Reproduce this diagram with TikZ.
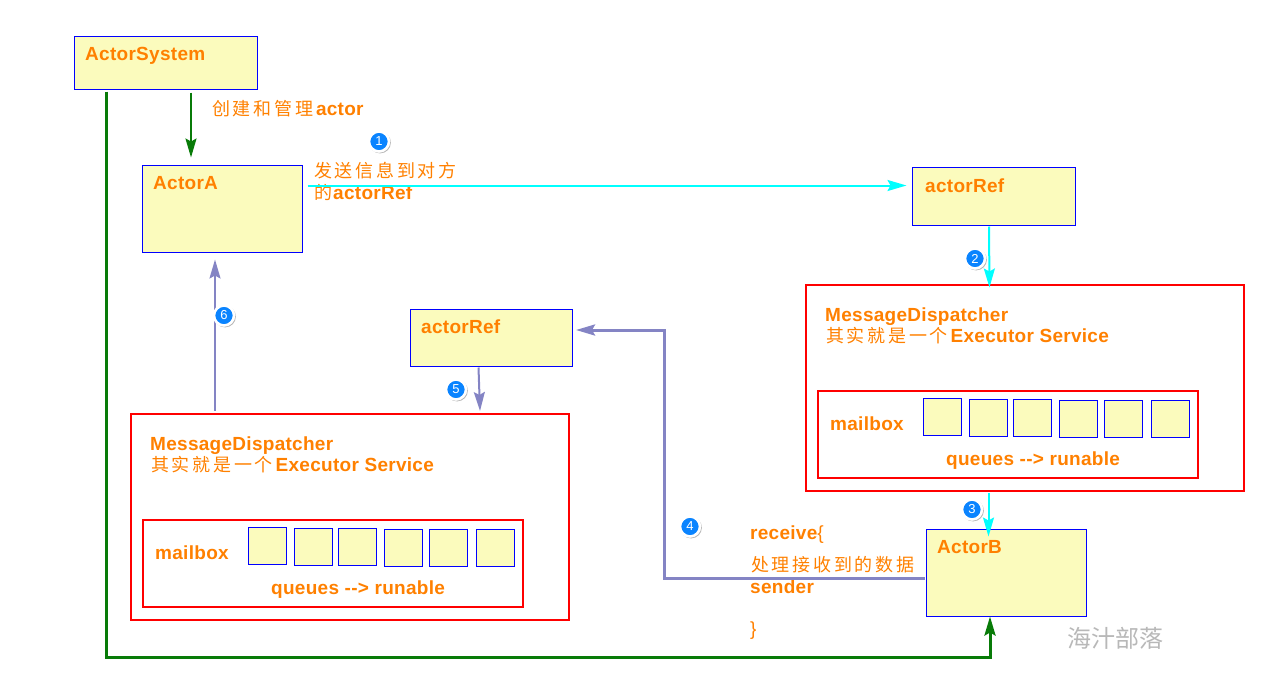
\documentclass[tikz,border=0pt]{standalone}
\usepackage{fontspec}
\setmainfont[LetterSpace=1.5]{Liberation Sans}
\newfontfamily\cjk[LetterSpace=15]{Noto Sans CJK SC}
\newfontfamily\wmfont{Noto Sans CJK SC}
\usetikzlibrary{arrows.meta,shadows}
\definecolor{boxfill}{HTML}{FBFBBD}
\definecolor{txtorange}{HTML}{FF8000}
\definecolor{msgpurple}{HTML}{8484C4}
\definecolor{ctlgreen}{HTML}{087B08}
\definecolor{badgeblue}{HTML}{0A84FF}
\definecolor{msgcyan}{HTML}{00FFFF}
\definecolor{boxblue}{HTML}{0000FF}
\definecolor{boxred}{HTML}{FF0000}
\newcommand{\zh}[1]{{\cjk\fontsize{18}{20}\selectfont\mdseries #1}\kern3pt}
\begin{document}
\begin{tikzpicture}[x=1pt,y=-1pt]
    \tikzset{>={Stealth[length=19pt,width=11pt,inset=3pt]}}
    \tikzset{actorbox/.style={draw=boxblue,fill=boxfill,line width=1pt,anchor=north west,inner sep=0,outer sep=0}}
    \tikzset{dispatchbox/.style={draw=boxred,line width=2pt,anchor=north west,inner sep=0,outer sep=0}}
    \tikzset{lbl/.style={anchor=base west,inner sep=0,text=txtorange,font=\fontsize{19}{20}\selectfont\bfseries}}
    \tikzset{badge/.style={circle,draw=white,line width=2.6pt,fill=badgeblue,text=white,minimum size=20pt,inner sep=0,
        font=\fontsize{13}{13}\selectfont,drop shadow={shadow xshift=1pt,shadow yshift=-1pt,shadow scale=1.08,opacity=0.6}}}
    \useasboundingbox (-0.5,-0.5) rectangle (1261.5,685.5);

    % actors and refs
    \node [actorbox,minimum width=183pt,minimum height=53pt] (ActorSystem) at (74,36) {};
    \node [actorbox,minimum width=160pt,minimum height=87pt] (ActorA) at (142,165) {};
    \node [actorbox,minimum width=163pt,minimum height=58pt] (RefB) at (912,167) {};
    \node [actorbox,minimum width=162pt,minimum height=57pt] (RefA) at (410,309) {};
    \node [actorbox,minimum width=160pt,minimum height=87pt] (ActorB) at (926,529) {};

    \node [lbl] (tSystem) at (84.5,60) {ActorSystem};
    \node [lbl] (tA) at (152.5,189) {ActorA};
    \node [lbl] (tRefB) at (924.5,192) {actorRef};
    \node [lbl] (tRefA) at (420.5,333) {actorRef};
    \node [lbl] (tB) at (936.5,553) {ActorB};

    % the two dispatchers, same layout
    \foreach \n/\dx/\dy in {R/0/0,L/-675/129}{
	\begin{scope}[shift={(\dx,\dy)}]
	    \node [dispatchbox,minimum width=438pt,minimum height=206pt] (disp\n) at (805.5,284.5) {};
	    \node [dispatchbox,minimum width=380pt,minimum height=86.5pt] (mail\n) at (817.5,390.5) {};
	    \node [lbl] (dtitle\n) at (824.5,321) {MessageDispatcher};
	    \node [lbl] (dsub\n) at (825.5,342) {\zh{其实就是一个}Executor Service};
	    \node [lbl] (mtitle\n) at (829.5,429.5) {mailbox};
	    \node [lbl] (qtitle\n) at (945.5,465) {queues -{}-> runable};
	    \foreach \i/\qx/\qy in {1/923/398,2/969/399,3/1013/399,4/1059/400,5/1104/400,6/1151/400}{
		\node [actorbox,minimum width=38pt,minimum height=37pt] (q\n\i) at (\qx,\qy) {};
	    }
	\end{scope}
    }

    % free text
    \node [lbl] (tManage) at (211.5,115) {\zh{创建和管理}actor};
    \node [lbl] (tSend) at (313.5,177) {\zh{发送信息到对方}};
    \node [lbl] (tSendRef) at (313.5,199) {\zh{的}\kern-2pt actorRef};
    \node [lbl] (tRecv) at (749.5,539) {receive{\mdseries\{}};
    \node [lbl] (tProc) at (750.5,571) {\zh{处理接收到的数据}};
    \node [lbl] (tSender) at (749.5,593) {sender};
    \node [lbl] (tClose) at (749.5,635) {\mdseries\}};
    \node [anchor=base west,inner sep=0,text=black!28,font=\wmfont\fontsize{24}{24}\selectfont] (tMark) at (1066.5,647) {海汁部落};

    % green: creation
    \draw [->,ctlgreen,line width=2pt] ([shift={(116.5,3)}]ActorSystem.south west) -- ([shift={(48.5,-8)}]ActorA.north west);
    \draw [->,ctlgreen,line width=3pt] ([shift={(32,2)}]ActorSystem.south west) -- (106,657) -- (989.5,657) -- ([shift={(63.5,0)}]ActorB.south west);
    % cyan: outgoing message
    \draw [->,msgcyan,line width=2pt] ([xshift=5pt]ActorA.east |- 0,185) -- ([xshift=-6pt]RefB.west |- 0,185);
    \draw [->,msgcyan,line width=2pt] ([shift={(76.5,1)}]RefB.south west) -- ([shift={(183.5,2.5)}]dispR.north west);
    \draw [->,msgcyan,line width=2pt] ([shift={(182.5,2)}]dispR.south west) -- ([shift={(62,7)}]ActorB.north west);
    % purple: reply
    \draw [->,msgpurple,line width=3pt] ([shift={(-2,49)}]ActorB.north west) -- (664,578) -- (664,329.5) -- ([xshift=3.5pt]RefA.east |- 0,329.5);
    \draw [->,msgpurple,line width=2pt] ([shift={(68,1)}]RefA.south west) -- ([shift={(349,-3)}]dispL.north west);
    \draw [->,msgpurple,line width=2pt] ([shift={(84,-3)}]dispL.north west) -- ([shift={(72.5,7)}]ActorA.south west);

    % numbered markers
    \foreach \n/\bx/\by in {1/378.5/141,2/974.5/258,3/971.5/509,4/689.5/526,5/455.5/389,6/223.5/315}{
	\node [badge] (badge\n) at (\bx,\by) {\n};
    }
\end{tikzpicture}
\end{document}
